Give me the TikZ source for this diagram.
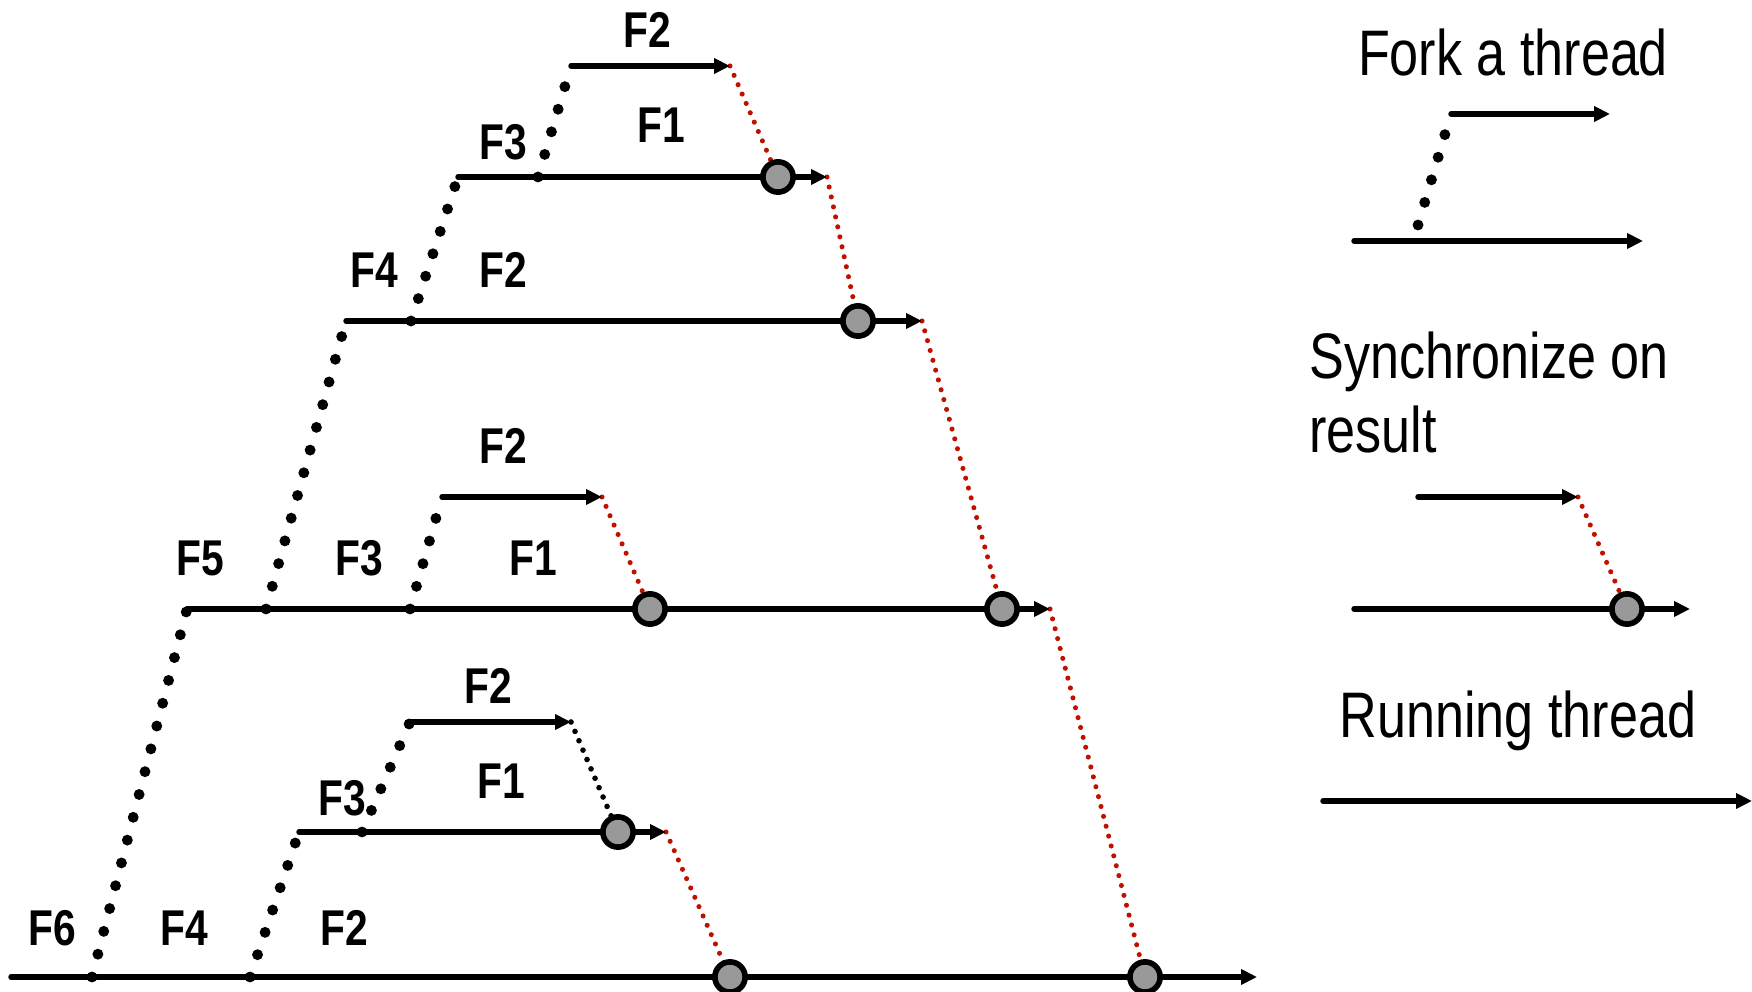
\documentclass[tikz,border=0pt]{standalone}
\usepackage{fontspec}
\setmainfont{Liberation Sans}[FakeStretch=0.81]
\usepackage{tkz-euclide}
\usetikzlibrary{arrows.meta}
\definecolor{joinred}{RGB}{192,16,0}
\tikzset{
  thread/.style={line width=1.55pt,-{Triangle[length=4.5pt,width=4.2pt]}},
  forkdots/.style={line width=3.1pt,line cap=round,dash pattern=on 0pt off 6.7pt},
  joindots/.style={joinred,line width=1.45pt,line cap=round,dash pattern=on 0pt off 2.9pt},
  joinblack/.style={black,line width=1.6pt,line cap=round,dash pattern=on 0pt off 2.9pt},
  syncpt/.style={circle,draw,line width=1.6pt,fill=black!40,minimum size=8.6pt,inner sep=0pt},
  lbltxt/.style={font=\fontsize{14.3}{17}\selectfont\bfseries},
  legtxt/.style={font=\fontsize{18.3}{21.3}\selectfont,align=left}
}

\begin{document}
\begin{tikzpicture}[x=0.01cm,y=-0.01cm]
                    \useasboundingbox (0,0) rectangle (1752,992);
                    % threads: start P, end Q, fork points K, sync points S
                    \tkzDefPoints{571/66/P1,730/66/Q1,
                                  458/177/P2,827/177/Q2,538/177/K2,
                                  346/321/P3,922/321/Q3,411/321/K3,
                                  187/609/P4,1050/609/Q4,266/609/K4,410/609/K5,
                                  442/497/P5,602/497/Q5,
                                  11/977/P6,1257/977/Q6,92/977/K6,250/977/K7,
                                  299/832/P7,666/832/Q7,362/832/K8,
                                  410/722/P8,571/722/Q8}
                    \tkzDefPoints{778/177/S1,858/321/S2,650/609/S3,1002/609/S4,
                                  618/832/S5,730/977/S6,1145/977/S7}
                    % legend
                    \tkzDefPoints{1451/114/A,1610/114/B,1354/241/C,1643/241/D,1418/225/E,
                                  1418/497/F,1578/497/G,1354/609/H,1690/609/I,1627/609/J,
                                  1323/801/L,1752/801/M}
                    \tkzDrawSegments[forkdots](K2,P1 K3,P2 K4,P3 K5,P5 K6,P4 K7,P7 K8,P8 E,A)
                    \tkzDrawSegments[joindots](Q1,S1 Q2,S2 Q5,S3 Q3,S4 Q7,S6 Q4,S7 G,J)
                    \tkzDrawSegments[joinblack](Q8,S5)
                    \tkzDrawSegments[thread](P1,Q1 P2,Q2 P3,Q3 P4,Q4 P5,Q5 P6,Q6 P7,Q7 P8,Q8)
                    \tkzDrawSegments[thread](A,B C,D F,G H,I L,M)
                    \foreach \s in {S1,S2,S3,S4,S5,S6,S7,J}
                      \node[syncpt] (n\s) at (\s) {};
                    % labels
                    \node[lbltxt] (f1) at (647,30) {F2};
                    \node[lbltxt] (f2) at (661,125) {F1};
                    \node[lbltxt] (f3) at (503,142) {F3};
                    \node[lbltxt] (f4) at (374,270) {F4};
                    \node[lbltxt] (f5) at (503,270) {F2};
                    \node[lbltxt] (f6) at (503,446) {F2};
                    \node[lbltxt] (f7) at (200,558) {F5};
                    \node[lbltxt] (f8) at (359,558) {F3};
                    \node[lbltxt] (f9) at (533,558) {F1};
                    \node[lbltxt] (f10) at (488,686) {F2};
                    \node[lbltxt] (f11) at (501,781) {F1};
                    \node[lbltxt] (f12) at (342,798) {F3};
                    \node[lbltxt] (f13) at (52,928) {F6};
                    \node[lbltxt] (f14) at (184,928) {F4};
                    \node[lbltxt] (f15) at (344,928) {F2};
                    \node[legtxt,anchor=base] (fork) at (1513,76) {Fork a thread};
                    \node[legtxt,anchor=base west] (sync) at (1297,453) {Synchronize on\\result};
                    \node[legtxt,anchor=base] (run) at (1518,738) {Running thread};
                \end{tikzpicture}
\end{document}
